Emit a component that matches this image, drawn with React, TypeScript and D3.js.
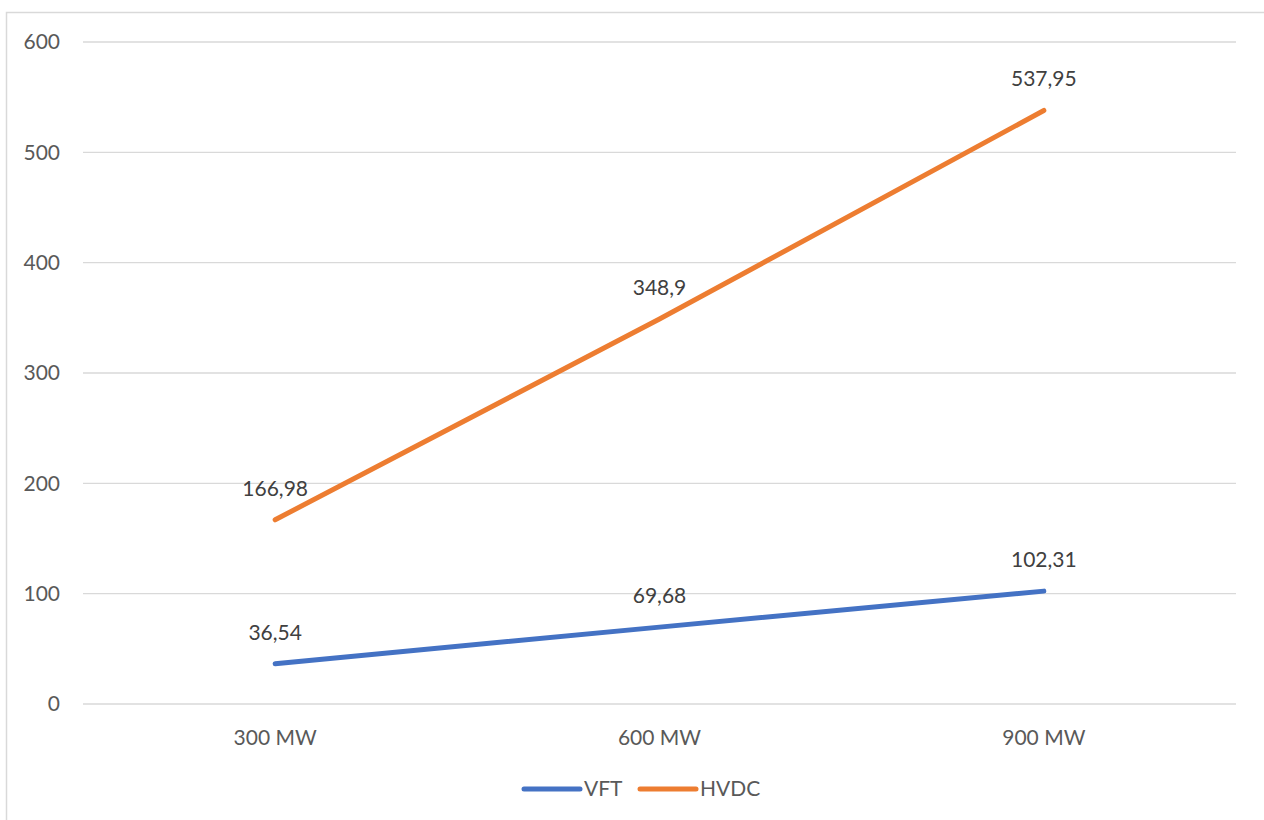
import { useEffect, useRef } from "react"
import * as d3 from "d3"

const categories = ["300 MW", "600 MW", "900 MW"]
const vftValues = [36.54, 69.68, 102.31]
const hvdcValues = [166.98, 348.9, 537.95]
const yTicks = [0, 100, 200, 300, 400, 500, 600]

const series = [
  { name: "VFT", values: vftValues, color: "#4472C4" },
  { name: "HVDC", values: hvdcValues, color: "#ED7D31" },
]

const fmt = (v: number) => String(v).replace(".", ",")

export default function App() {
  const svgRef = useRef<SVGSVGElement>(null)

  useEffect(() => {
    if (!svgRef.current) return
    const svg = d3.select(svgRef.current)
    svg.selectAll("*").remove()

    const W = 1264
    const H = 820
    const font = "Lato, 'Open Sans', sans-serif"
    const fs = 21
    const margin = { top: 42, right: 28, bottom: 116, left: 83 }
    const width = W - margin.left - margin.right
    const height = H - margin.top - margin.bottom

    // chart border
    svg
      .append("rect")
      .attr("x", 6.5)
      .attr("y", 12.5)
      .attr("width", W + 10)
      .attr("height", H + 10)
      .attr("fill", "white")
      .attr("stroke", "#d9d9d9")
      .attr("stroke-width", 1.5)

    const g = svg.append("g").attr("transform", `translate(${margin.left},${margin.top})`)

    const x = d3.scaleBand().domain(categories).range([0, width])
    const y = d3.scaleLinear().domain([0, 600]).range([height, 0])

    // grid lines
    g.selectAll(".grid")
      .data(yTicks)
      .enter()
      .append("line")
      .attr("x1", 0)
      .attr("x2", width)
      .attr("y1", d => y(d))
      .attr("y2", d => y(d))
      .attr("stroke", "#d9d9d9")
      .attr("stroke-width", 1.3)

    // y labels
    g.selectAll(".ylab")
      .data(yTicks)
      .enter()
      .append("text")
      .attr("x", -23)
      .attr("y", d => y(d))
      .attr("dy", "0.35em")
      .attr("text-anchor", "end")
      .attr("fill", "#595959")
      .attr("font-family", font)
      .attr("font-size", fs)
      .text(d => d)

    // x labels
    g.selectAll(".xlab")
      .data(categories)
      .enter()
      .append("text")
      .attr("x", d => (x(d) as number) + x.bandwidth() / 2)
      .attr("y", height + 41)
      .attr("text-anchor", "middle")
      .attr("fill", "#595959")
      .attr("font-family", font)
      .attr("font-size", fs)
      .text(d => d)

    const cx = (i: number) => (x(categories[i]) as number) + x.bandwidth() / 2

    series.forEach(s => {
      const line = d3
        .line<number>()
        .x((_, i) => cx(i))
        .y(d => y(d))

      g.append("path")
        .datum(s.values)
        .attr("fill", "none")
        .attr("stroke", s.color)
        .attr("stroke-width", 5)
        .attr("stroke-linecap", "round")
        .attr("stroke-linejoin", "round")
        .attr("d", line)

      g.selectAll(null)
        .data(s.values)
        .enter()
        .append("text")
        .attr("x", (_, i) => cx(i))
        .attr("y", d => y(d) - 24)
        .attr("text-anchor", "middle")
        .attr("fill", "#404040")
        .attr("font-family", font)
        .attr("font-size", fs)
        .text(d => fmt(d))
    })

    // legend
    const legendY = 789
    const legendItems = [
      { x: 524, s: series[0] },
      { x: 640, s: series[1] },
    ]
    legendItems.forEach(({ x: lx, s }) => {
      svg
        .append("line")
        .attr("x1", lx)
        .attr("x2", lx + 56)
        .attr("y1", legendY)
        .attr("y2", legendY)
        .attr("stroke", s.color)
        .attr("stroke-width", 5)
        .attr("stroke-linecap", "round")
      svg
        .append("text")
        .attr("x", lx + 60)
        .attr("y", legendY)
        .attr("dy", "0.35em")
        .attr("fill", "#595959")
        .attr("font-family", font)
        .attr("font-size", fs)
        .text(s.name)
    })
  }, [])

  return (
    <svg
      ref={svgRef}
      width={1264}
      height={820}
      style={{ position: "absolute", left: 0, top: 0, display: "block" }}
    />
  )
}
